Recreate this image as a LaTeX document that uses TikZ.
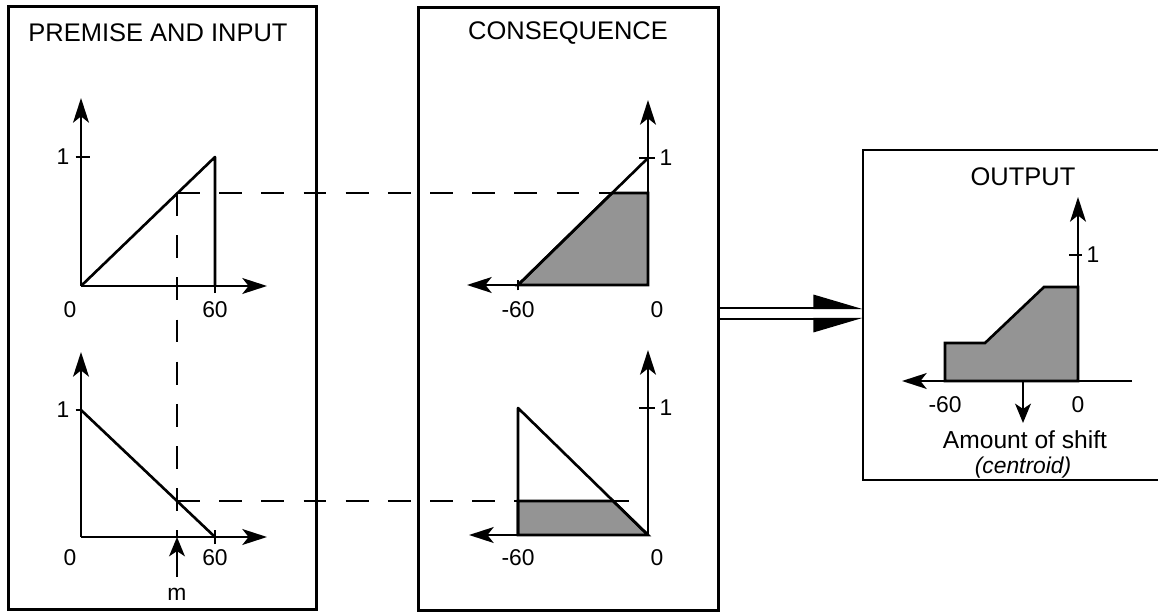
\documentclass[tikz,border=0pt]{standalone}
\usepackage{fontspec}
\setmainfont{Liberation Sans}
\usetikzlibrary{arrows.meta}
\tikzset{
  ax/.style={line width=1.4pt, -{Stealth[length=14pt,width=9pt,inset=3.5pt]}},
  box/.style={draw, line width=1.5pt, inner sep=0pt, anchor=south west},
  curve/.style={line width=1.5pt, line join=round},
  tk/.style={line width=1.4pt},
  cutfill/.style={line width=1.5pt, fill=black!42},
  guide/.style={line width=1.3pt, dash pattern=on 13pt off 11pt},
  small/.style={line width=1.3pt, -{Stealth[length=11pt,width=9pt,inset=3pt]}},
  harpup/.style={line width=1.3pt, -{Stealth[harpoon,length=26pt,width=15pt,inset=0pt]}},
  harpdown/.style={line width=1.3pt, -{Stealth[harpoon,swap,length=26pt,width=15pt,inset=0pt]}},
  num/.style={font=\fontsize{13}{15}\selectfont, inner sep=1pt},
  head/.style={font=\fontsize{14.5}{17}\selectfont, inner sep=1pt},
}

\begin{document}
\begin{tikzpicture}[x=0.2cm, y=0.2cm]
\useasboundingbox (0,0) rectangle (115.8,61.4);
% the three panels
\node[box, minimum width=6.16cm, minimum height=12.06cm] (premise) at (0.7,0.3) {};
\node[box, minimum width=6.0cm, minimum height=12.06cm] (conseq) at (41.7,0.2) {};
\coordinate (out-tl) at (86.3,46.4);
\coordinate (out-bl) at (86.3,13.4);
\draw[line width=1.5pt] (115.8,46.4) -- (out-tl) -- (out-bl) -- (115.8,13.4);
\node[head] (t-premise) at (15.8,58.1) {PREMISE AND INPUT};
\node[head] (t-conseq) at (56.8,58.1) {CONSEQUENCE};
\node[head] (t-output) at (102.3,43.7) {OUTPUT};

% premise, upper graph
\coordinate (a-o) at (8.1,32.8);
\coordinate (a-y) at (8.1,51.6);
\coordinate (a-x) at (26.7,32.8);
\coordinate (a-top) at (21.5,45.7);
\coordinate (a-60) at (21.5,32.8);
\coordinate (a-1) at (8.1,45.7);
\coordinate (a-m) at (17.7,42.1);
\draw[ax] (a-o) -- (a-y);
\draw[ax] (a-o) -- (a-x);
\draw[curve] (a-o) -- (a-top) -- (a-60);
\draw[tk] ([xshift=-3pt]a-1) -- ([xshift=5pt]a-1);
\draw[tk] ([yshift=-4pt]a-60) -- (a-60);
\node[num] (a-l0) at (7.0,30.4) {0};
\node[num] (a-l60) at (21.5,30.4) {60};
\node[num] (a-l1) at (6.3,45.7) {1};

% premise, lower graph
\coordinate (b-o) at (8.1,7.7);
\coordinate (b-y) at (8.1,26.2);
\coordinate (b-x) at (26.7,7.7);
\coordinate (b-1) at (8.1,20.4);
\coordinate (b-60) at (21.5,7.7);
\coordinate (b-m) at (17.7,11.3);
\coordinate (b-mx) at (17.7,7.7);
\coordinate (m-foot) at (17.7,3.7);
\draw[ax] (b-o) -- (b-y);
\draw[ax] (b-o) -- (b-x);
\draw[curve] (b-1) -- (b-60);
\draw[tk] ([xshift=-3pt]b-1) -- (b-1);
\draw[tk] ([yshift=-4pt]b-60) -- ([yshift=4pt]b-60);
\node[num] (b-l0) at (7.0,5.6) {0};
\node[num] (b-l60) at (21.5,5.6) {60};
\node[num] (b-l1) at (6.3,20.4) {1};
\draw[small] (m-foot) -- (b-mx);
\node[num] (m-lab) at (17.7,2.0) {m};

% consequence, upper graph
\coordinate (c-o) at (64.8,32.9);
\coordinate (c-y) at (64.8,51.4);
\coordinate (c-x) at (46.7,32.9);
\coordinate (c-60) at (51.8,32.9);
\coordinate (c-top) at (64.8,45.6);
\coordinate (c-cut) at (61.2,42.1);
\coordinate (c-cutax) at (64.8,42.1);
\filldraw[cutfill] (c-60) -- (c-cut) -- (c-cutax) -- (c-o) -- cycle;
\draw[curve] (c-60) -- (c-top);
\draw[ax] (c-o) -- (c-y);
\draw[ax] (c-o) -- (c-x);
\draw[tk] ([xshift=-5pt]c-top) -- ([xshift=4pt]c-top);
\draw[tk] ([yshift=-3pt]c-60) -- ([yshift=3pt]c-60);
\node[num] (c-l60) at (51.8,30.4) {-60};
\node[num] (c-l0) at (65.7,30.4) {0};
\node[num] (c-l1) at (66.6,45.6) {1};

% consequence, lower graph
\coordinate (d-o) at (64.8,7.9);
\coordinate (d-y) at (64.8,26.4);
\coordinate (d-x) at (46.9,7.9);
\coordinate (d-60) at (51.8,7.9);
\coordinate (d-top) at (51.8,20.6);
\coordinate (d-1) at (64.8,20.6);
\coordinate (d-cut) at (61.3,11.3);
\coordinate (d-cutl) at (51.8,11.3);
\coordinate (d-cutax) at (64.8,11.3);
\filldraw[cutfill] (d-60) -- (d-cutl) -- (d-cut) -- (d-o) -- cycle;
\draw[curve] (d-60) -- (d-top) -- (d-o);
\draw[ax] (d-o) -- (d-y);
\draw[ax] (d-o) -- (d-x);
\draw[tk] ([xshift=-5pt]d-1) -- ([xshift=4pt]d-1);
\node[num] (d-l60) at (51.8,5.6) {-60};
\node[num] (d-l0) at (65.7,5.6) {0};
\node[num] (d-l1) at (66.6,20.6) {1};

% dashed read-off lines
\draw[guide] (a-m) -- (b-mx);
\draw[guide] (a-m) -- (c-cut);
\draw[guide] (b-m) -- (d-cutl);
\draw[guide, dash phase=4pt] (d-cut) -- (d-cutax);

% double arrow into the output
\coordinate (o-in1) at (86.3,30.6);
\coordinate (o-in2) at (86.3,29.5);
\draw[harpup] (conseq.east |- o-in1) -- (o-in1);
\draw[harpdown] (conseq.east |- o-in2) -- (o-in2);

% output graph
\coordinate (e-o) at (107.8,23.3);
\coordinate (e-y) at (107.8,41.7);
\coordinate (e-x) at (90.2,23.3);
\coordinate (e-r) at (113.2,23.3);
\coordinate (e-60) at (94.5,23.3);
\coordinate (e-1) at (107.8,35.9);
\coordinate (e-c) at (102.3,23.3);
\coordinate (e-cend) at (102.3,19.1);
\filldraw[cutfill] (e-60) -- (94.5,27.1) -- (98.5,27.1) -- (104.4,32.7) -- (107.8,32.7) -- (e-o) -- cycle;
\draw[ax] (e-r) -- (e-x);
\draw[ax] (e-o) -- (e-y);
\draw[tk] ([xshift=-5pt]e-1) -- ([xshift=2pt]e-1);
\draw[small] (e-c) -- (e-cend);
\node[num] (e-l60) at (94.5,20.9) {-60};
\node[num] (e-l0) at (107.8,20.9) {0};
\node[num] (e-l1) at (109.3,35.9) {1};
\node[head, font=\fontsize{14}{16}\selectfont] (e-amount) at (102.5,17.4) {Amount of shift};
\node[num, font=\fontsize{13}{15}\selectfont\itshape] (e-centroid) at (102.3,14.6) {(centroid)};
\end{tikzpicture}
\end{document}
